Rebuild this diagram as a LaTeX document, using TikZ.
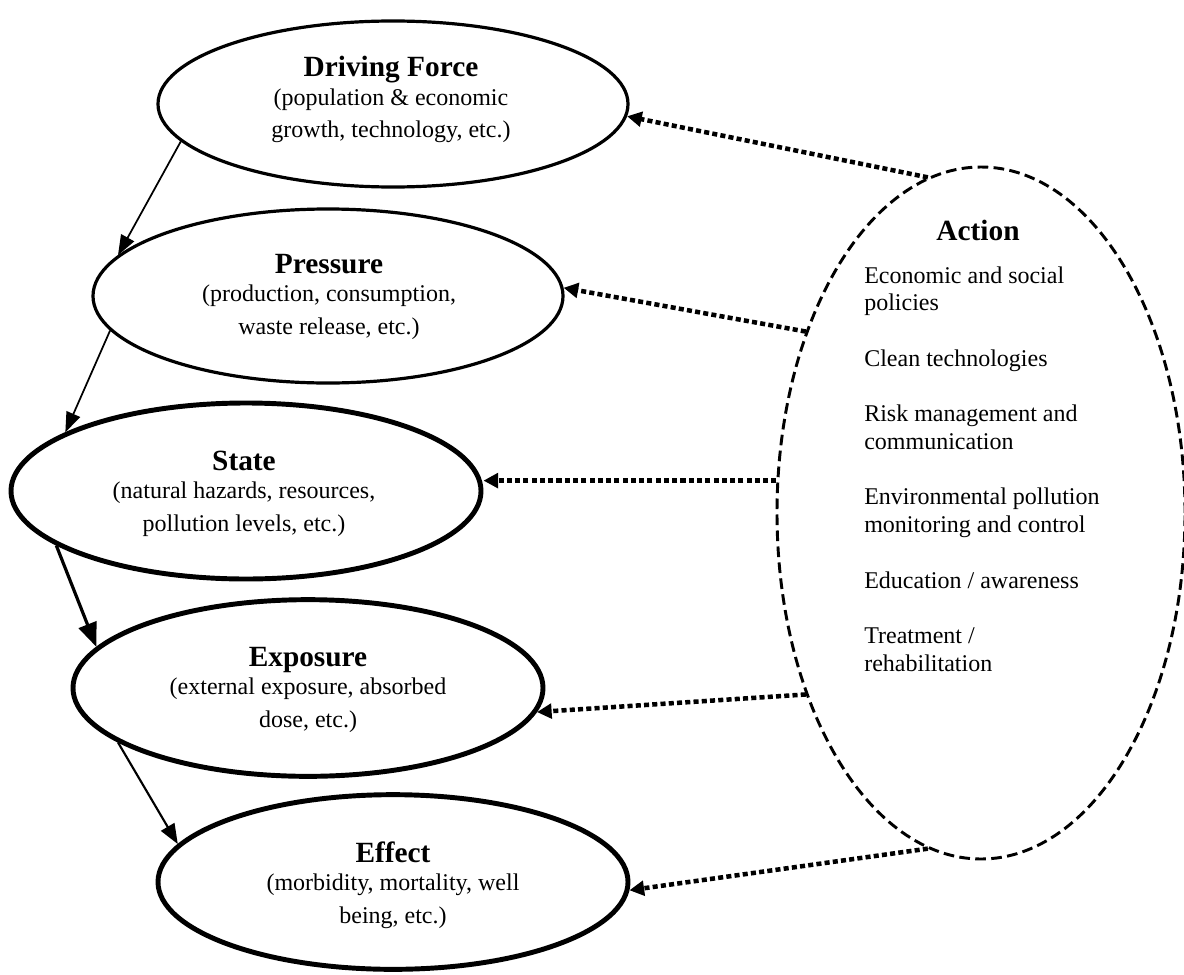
\documentclass[tikz,border=0pt]{standalone}
\usepackage{fontspec}
\setmainfont{Liberation Serif}
\usetikzlibrary{arrows.meta,shapes.geometric}
\begin{document}
\begin{tikzpicture}[x=0.75pt,y=-0.75pt,
  oval/.style={draw,ellipse,inner sep=0pt,minimum width=352.5pt},
  thinoval/.style={oval,line width=2.4pt},
  thickoval/.style={oval,line width=3.7pt},
  actoval/.style={draw,ellipse,inner sep=0pt,minimum width=306pt,minimum height=519pt,
    line width=2.2pt,dash pattern=on 8pt off 4pt},
  lbl/.style={anchor=base,inner sep=0pt,font=\fontsize{18}{21}\selectfont},
  ttl/.style={font=\fontsize{22}{21}\selectfont\bfseries},
  flow/.style={-{Triangle[length=15pt 0,width=11pt 0]},line width=1.3pt},
  medflow/.style={-{Triangle[length=15pt 0,width=11.5pt 0]},line width=1.6pt},
  thickflow/.style={-{Triangle[length=18pt 0,width=14pt 0]},line width=2.4pt},
  dotarrow/.style={-{Triangle[length=11pt 0,width=11pt 0]},line width=3.4pt,
    dash pattern=on 3.8pt off 2.4pt}
]
\useasboundingbox (0,0) rectangle (1184,974);

% ellipses
\node[thinoval,minimum height=124.5pt] (df) at (393,104) {};
\node[thinoval,minimum height=130.5pt] (pr) at (328,296) {};
\node[thickoval,minimum height=132pt] (st) at (246,491) {};
\node[thickoval,minimum height=132.5pt] (ex) at (308,688) {};
\node[thickoval,minimum height=131pt] (ef) at (393,882) {};
\node[actoval] (act) at (981,513) {};

% labels
\node[lbl] (dft) at (391,77) {\begin{tabular}[t]{@{}c@{}}{\fontsize{22}{21}\selectfont\bfseries Driving Force}\\ (population \& economic\\[3.75pt] growth, technology, etc.)\end{tabular}};
\node[lbl] (prt) at (329,273) {\begin{tabular}[t]{@{}c@{}}{\fontsize{22}{21}\selectfont\bfseries Pressure}\\ (production, consumption,\\[3.75pt] waste release, etc.)\end{tabular}};
\node[lbl] (stt) at (244,470) {\begin{tabular}[t]{@{}c@{}}{\fontsize{22}{21}\selectfont\bfseries State}\\ (natural hazards, resources,\\[3.75pt] pollution levels, etc.)\end{tabular}};
\node[lbl] (ext) at (308,666) {\begin{tabular}[t]{@{}c@{}}{\fontsize{22}{21}\selectfont\bfseries Exposure}\\ (external exposure, absorbed\\[3.75pt] dose, etc.)\end{tabular}};
\node[lbl] (eft) at (393,862) {\begin{tabular}[t]{@{}c@{}}{\fontsize{22}{21}\selectfont\bfseries Effect}\\ (morbidity, mortality, well\\[3.75pt] being, etc.)\end{tabular}};

\node[anchor=base,inner sep=0pt,ttl] (actt) at (978,240) {Action};
\node[anchor=base west,inner sep=0pt,font=\fontsize{18}{20.8}\selectfont] (actl) at (864,283)
 {\begin{tabular}[t]{@{}l@{}}Economic and social\\ policies\\ \\ Clean technologies\\ \\ Risk management and\\ communication\\ \\ Environmental pollution\\ monitoring and control\\ \\ Education / awareness\\ \\ Treatment /\\ rehabilitation\end{tabular}};

% chain arrows
\draw[flow] (df.190) -- (pr.169);
\draw[flow] (pr.189) -- (st.162);
\draw[thickflow] (st.196) -- (ex.169);
\draw[medflow] (ex.196) -- (ef.170);

% action arrows
\draw[dotarrow] (act.99) -- (df.-3);
\draw[dotarrow] (act.134) -- (pr.2);
\draw[dotarrow] (act.171) -- (act.171 -| st.east);
\draw[dotarrow] (act.226) -- (ex.-6);
\draw[dotarrow] (act.261) -- (ef.-2);
\end{tikzpicture}
\end{document}
